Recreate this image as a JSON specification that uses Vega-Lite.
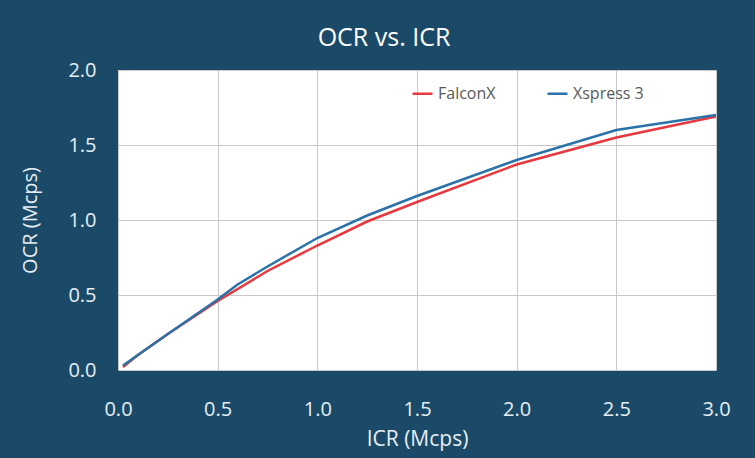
{
  "$schema": "https://vega.github.io/schema/vega-lite/v6.json",
  "autosize": "none",
  "width": 598,
  "height": 300,
  "padding": {"left": 118, "top": 70, "right": 39, "bottom": 88},
  "background": "#1b4a69",
  "title": {"text": "OCR vs. ICR", "color": "#ffffff", "font": "Open Sans", "fontSize": 25, "fontWeight": "normal", "anchor": "middle", "dx": -33, "offset": 9},
  "data": {"values": [
    {"series": "FalconX", "icr": 0.025, "ocr": 0.02},
    {"series": "FalconX", "icr": 0.1, "ocr": 0.1},
    {"series": "FalconX", "icr": 0.25, "ocr": 0.24},
    {"series": "FalconX", "icr": 0.5, "ocr": 0.46},
    {"series": "FalconX", "icr": 0.75, "ocr": 0.66},
    {"series": "FalconX", "icr": 1.0, "ocr": 0.83},
    {"series": "FalconX", "icr": 1.25, "ocr": 0.99},
    {"series": "FalconX", "icr": 1.5, "ocr": 1.12},
    {"series": "FalconX", "icr": 2.0, "ocr": 1.37},
    {"series": "FalconX", "icr": 2.5, "ocr": 1.55},
    {"series": "FalconX", "icr": 3.0, "ocr": 1.69},
    {"series": "Xspress 3", "icr": 0.025, "ocr": 0.03},
    {"series": "Xspress 3", "icr": 0.1, "ocr": 0.1},
    {"series": "Xspress 3", "icr": 0.25, "ocr": 0.24},
    {"series": "Xspress 3", "icr": 0.5, "ocr": 0.47},
    {"series": "Xspress 3", "icr": 0.6, "ocr": 0.57},
    {"series": "Xspress 3", "icr": 0.75, "ocr": 0.69},
    {"series": "Xspress 3", "icr": 1.0, "ocr": 0.88},
    {"series": "Xspress 3", "icr": 1.25, "ocr": 1.03},
    {"series": "Xspress 3", "icr": 1.5, "ocr": 1.16},
    {"series": "Xspress 3", "icr": 2.0, "ocr": 1.40},
    {"series": "Xspress 3", "icr": 2.5, "ocr": 1.60},
    {"series": "Xspress 3", "icr": 3.0, "ocr": 1.70}
  ]},
  "mark": {"type": "line", "strokeWidth": 2.5},
  "encoding": {
    "x": {"field": "icr", "type": "quantitative", "title": "ICR (Mcps)",
      "scale": {"domain": [0, 3], "nice": false},
      "axis": {"values": [0, 0.5, 1, 1.5, 2, 2.5, 3], "format": ".1f", "domain": false, "ticks": false, "labelFlush": false,
        "labelPadding": 29, "labelFontSize": 20, "labelColor": "#e6eef5", "labelFont": "Open Sans",
        "titleFontSize": 21, "titleColor": "#e6eef5", "titleFont": "Open Sans", "titleFontWeight": "normal", "titlePadding": 9,
        "gridColor": "#c8c8c8", "gridWidth": 1}},
    "y": {"field": "ocr", "type": "quantitative", "title": "OCR (Mcps)",
      "scale": {"domain": [0, 2], "nice": false},
      "axis": {"values": [0, 0.5, 1, 1.5, 2], "format": ".1f", "domain": false, "ticks": false, "labelFlush": false,
        "labelPadding": 22, "labelFontSize": 20, "labelColor": "#e6eef5", "labelFont": "Open Sans",
        "titleFontSize": 20, "titleColor": "#e6eef5", "titleFont": "Open Sans", "titleFontWeight": "normal", "titlePadding": 27,
        "gridColor": "#c8c8c8", "gridWidth": 1}},
    "color": {"field": "series", "type": "nominal",
      "scale": {"domain": ["FalconX", "Xspress 3"], "range": ["#e8383f", "#2a72a8"]},
      "legend": {"title": null, "orient": "none", "legendX": 293, "legendY": 12, "direction": "horizontal",
        "symbolType": "stroke", "symbolSize": 400, "symbolStrokeWidth": 2.5, "labelFontSize": 16, "labelColor": "#595959",
        "labelFont": "Open Sans", "columnPadding": 46, "labelOffset": 4}}
  },
  "config": {"view": {"fill": "#ffffff", "stroke": null}}
}
